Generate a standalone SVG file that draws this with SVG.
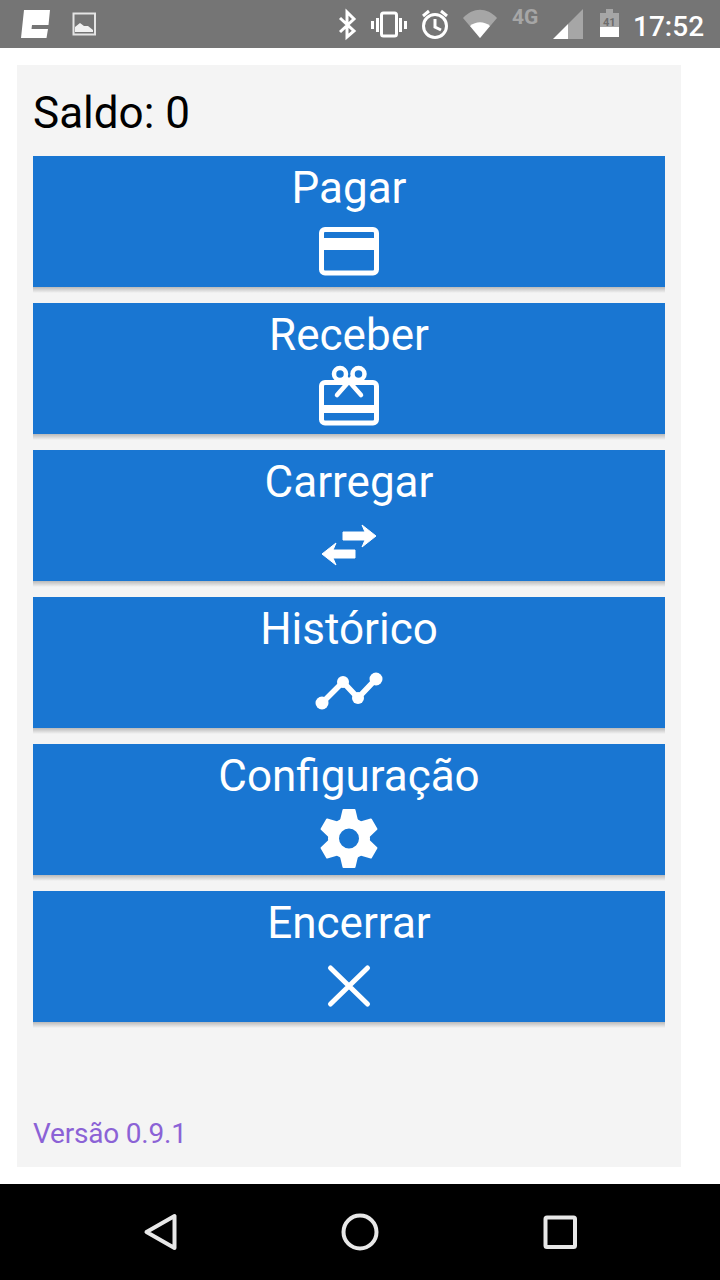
<svg xmlns="http://www.w3.org/2000/svg" width="720" height="1280" viewBox="0 0 720 1280">
<style>
text{font-family:Roboto,"Liberation Sans",sans-serif}
.btn{fill:#1976d2}
.lbl{fill:#fff;font-size:44px;text-anchor:middle}
.ic{fill:none;stroke:#fff;stroke-linecap:round;stroke-linejoin:round}
.w{fill:#fff}
.st{fill:none;stroke:#fff;stroke-width:3}
.dim{fill:#a6a6a6}
.nav{fill:none;stroke:#e8e8e8;stroke-width:4;stroke-linejoin:round}
.soft{filter:url(#soft)}
</style>
<defs>
<filter id="soft" x="-10%" y="-10%" width="120%" height="120%"><feGaussianBlur stdDeviation="0.6"/></filter>
<linearGradient id="shade" x1="0" y1="0" x2="0" y2="1"><stop offset="0" stop-color="#000" stop-opacity=".24"/><stop offset="1" stop-color="#000" stop-opacity="0"/></linearGradient>
<rect id="bshadow" x="33" y="131" width="632" height="6" fill="url(#shade)"/>
<path id="tooth" d="M-8 -18L-5.500 -28.500H5.500L8 -18Z" stroke="#fff" stroke-width="2" stroke-linejoin="round" fill="#fff"/>
</defs>
<rect width="720" height="1280" fill="#fff"/>
<g id="statusbar">
<rect width="720" height="48" fill="#757575"/>
<path class="w" d="M24 10H50L48.500 25H32L31.500 29H48L46.500 38H21Z"/>
<rect x="73.500" y="13.500" width="21.500" height="21" fill="none" stroke="#e4e4e4" stroke-width="2"/>
<path class="w" d="M75 32V27L80 23L84 26L88 26L93 30V32Z" opacity=".9"/>
<path class="st" d="M340 18L354 31L347 37V12L354 19L340 32" stroke-width="2.600"/>
<rect class="st" x="381.500" y="13" width="15" height="23" rx="2"/>
<path class="w" d="M371 21h3v8h-3zM376 18h3v14h-3zM399 18h3v14h-3zM404 21h3v8h-3z"/>
<circle class="st" cx="435" cy="26" r="11.500"/>
<path class="st" d="M435 19V27L441 30" stroke-width="2.400"/>
<path class="st" d="M423 16L429 11M447 16L441 11"/>
<path d="M463 18C473 7 487 7 497 18L480 38Z" fill="#a6a6a6"/>
<path class="w" d="M470 26C476 21 484 21 490 26L480 38Z"/>
<text x="512" y="24" font-size="21" font-weight="700" class="dim">4G</text>
<path class="dim" d="M583 9V39H568V24Z"/>
<path class="w" d="M553 39L568 24V39Z"/>
<path class="dim" d="M600 13H606V9H613V13H619V27H600Z"/>
<path class="w" d="M600 27H619V37H600Z"/>
<text x="603" y="26" font-size="11" font-weight="700" fill="#6c6c6c">41</text>
<text x="633" y="36" font-size="28" font-weight="500" fill="#fff">17:52</text>
</g>
<rect id="panel" x="17" y="65" width="664" height="1102" fill="#f4f4f4"/>
<text id="saldo" x="33" y="128" font-size="44" fill="#000">Saldo: 0</text>
<g id="btn-pagar">
<use href="#bshadow" y="156"/>
<rect class="btn" x="33" y="156" width="632" height="131"/>
<text class="lbl" x="349" y="203">Pagar</text>
<g class="soft">
<rect class="ic" x="321.500" y="229.500" width="55" height="43.500" rx="3.500" stroke-width="5"/>
<rect class="w" x="321" y="238" width="56" height="12"/>
</g>
</g>
<g id="btn-receber">
<use href="#bshadow" y="303"/>
<rect class="btn" x="33" y="303" width="632" height="131"/>
<text class="lbl" x="349" y="350">Receber</text>
<g class="soft">
<rect class="ic" x="321.500" y="382.500" width="55" height="40.500" rx="3.500" stroke-width="5"/>
<rect class="w" x="321" y="405" width="56" height="8"/>
<g class="ic" stroke-width="4.500"><circle cx="340" cy="374" r="6"/><circle cx="358.500" cy="374" r="6"/><path d="M337 395L352 378M361 395L346 378"/></g>
</g>
</g>
<g id="btn-carregar">
<use href="#bshadow" y="450"/>
<rect class="btn" x="33" y="450" width="632" height="131"/>
<text class="lbl" x="349" y="497">Carregar</text>
<path class="w soft" d="M343 532H365L362 525L376 536L362 547L365 540H343ZM355 550H333L336 543L322 554L336 565L333 558H355Z" stroke="#fff" stroke-width="1" stroke-linejoin="round"/>
</g>
<g id="btn-historico">
<use href="#bshadow" y="597"/>
<rect class="btn" x="33" y="597" width="632" height="131"/>
<text class="lbl" x="349" y="644">Histórico</text>
<g class="soft">
<path class="ic" d="M322 703L343 682L358 698L376 679" stroke-width="5.500"/>
<circle class="w" cx="322" cy="703" r="6.500"/><circle class="w" cx="343" cy="682" r="6"/><circle class="w" cx="358" cy="698" r="6"/><circle class="w" cx="376" cy="679" r="6.500"/>
</g>
</g>
<g id="btn-configuracao">
<use href="#bshadow" y="744"/>
<rect class="btn" x="33" y="744" width="632" height="131"/>
<text class="lbl" x="349" y="791">Configuração</text>
<g class="soft" transform="translate(349 838.500)">
<circle r="15.500" fill="none" stroke="#fff" stroke-width="11"/>
<use href="#tooth"/>
<use href="#tooth" transform="rotate(60)"/>
<use href="#tooth" transform="rotate(120)"/>
<use href="#tooth" transform="rotate(180)"/>
<use href="#tooth" transform="rotate(240)"/>
<use href="#tooth" transform="rotate(300)"/>
</g>
</g>
<g id="btn-encerrar">
<use href="#bshadow" y="891"/>
<rect class="btn" x="33" y="891" width="632" height="131"/>
<text class="lbl" x="349" y="938">Encerrar</text>
<path class="ic soft" d="M330.500 968L367.500 1004M367.500 968L330.500 1004" stroke-width="5"/>
</g>
<text id="versao" x="33" y="1143" font-size="28" fill="#8b62d6" textLength="154">Versão 0.9.1</text>
<g id="navbar">
<rect y="1184" width="720" height="96" fill="#000"/>
<path class="nav" d="M174.500 1216V1248L146.500 1232Z"/>
<circle class="nav" cx="360" cy="1232" r="16.500"/>
<rect class="nav" x="545.500" y="1217.500" width="29.500" height="29.500" rx="1.500"/>
</g>
</svg>
